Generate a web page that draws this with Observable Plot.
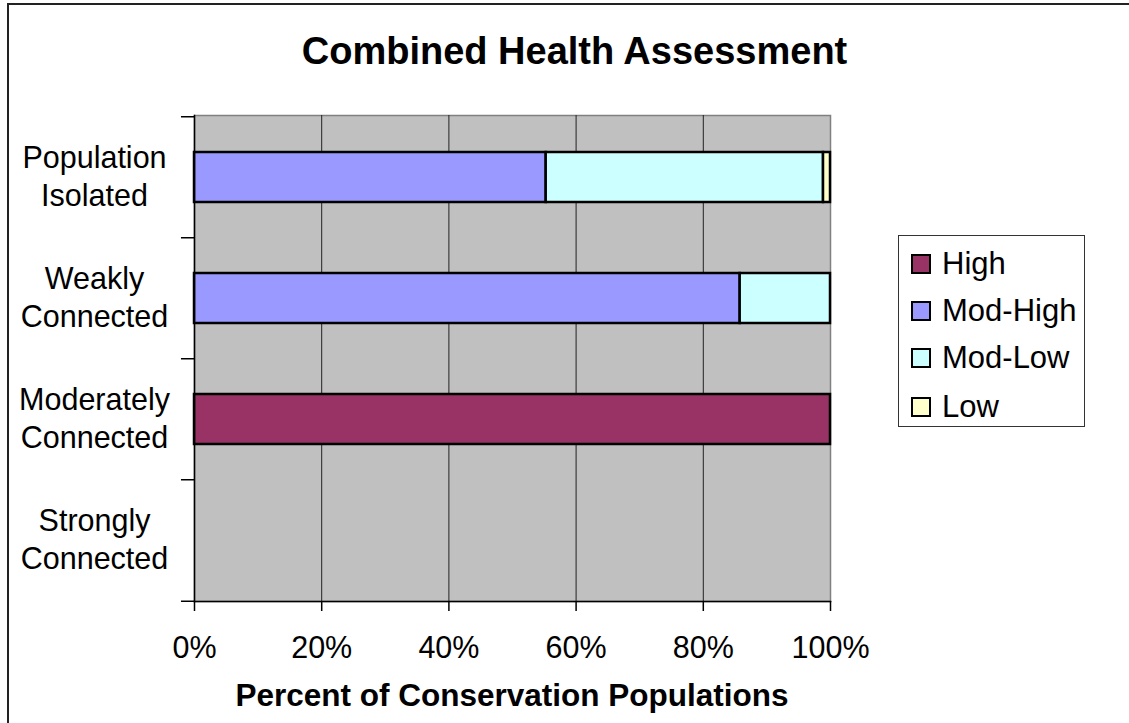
<!DOCTYPE html>
<html>
<head>
<meta charset="utf-8">
<script src="https://cdn.jsdelivr.net/npm/d3@7"></script>
<script src="https://cdn.jsdelivr.net/npm/@observablehq/plot@0.6"></script>
<style>
  html, body { margin: 0; padding: 0; background: #fff; }
  #wrap { position: relative; width: 1129px; height: 723px; overflow: hidden; font-family: "Liberation Sans", Arial, sans-serif; }
  #border { position: absolute; left: 7px; top: 3px; right: -10px; bottom: -10px; border-left: 2px solid #222; border-top: 2px solid #222; }
  #title { position: absolute; left: 0; width: 1149px; top: 29px; text-align: center; font-weight: bold; font-size: 38px; line-height: 44px; color: #000; }
  #xlabel { position: absolute; left: 194px; width: 636px; top: 677px; text-align: center; font-weight: bold; font-size: 31.5px; line-height: 36px; color: #000; white-space: nowrap; }
  #legend { position: absolute; left: 898px; top: 235px; width: 187px; height: 192px; border: 1.5px solid #333; box-sizing: border-box; background: #fff; }
  .item { position: absolute; left: 12px; height: 36px; display: flex; align-items: center; font-size: 31px; color: #000; white-space: nowrap; }
  .sw { width: 16px; height: 16px; border: 2px solid #000; margin-right: 11px; flex: none; }
  svg { position: absolute; left: 0; top: 0; }
</style>
</head>
<body>
<div id="wrap">
  <div id="border"></div>
  <div id="chart"></div>
  <div id="title"></div>
  <div id="xlabel"></div>
  <div id="legend"></div>
</div>
<script>
const titleText = "Combined Health Assessment";
const xLabelText = "Percent of Conservation Populations";
const categories = ["Population Isolated", "Weakly Connected", "Moderately Connected", "Strongly Connected"];
const categoryLabels = ["Population\nIsolated", "Weakly\nConnected", "Moderately\nConnected", "Strongly\nConnected"];
const levels = ["High", "Mod-High", "Mod-Low", "Low"];
const levelColors = ["#993366", "#9999ff", "#ccffff", "#ffffcc"];
const high    = [0, 0, 100, 0];
const modHigh = [55.3, 85.8, 0, 0];
const modLow  = [43.6, 14.2, 0, 0];
const low     = [1.1, 0, 0, 0];
const xTicks = [0, 20, 40, 60, 80, 100];

const seriesValues = [high, modHigh, modLow, low];
const rows = [];
categories.forEach((c, i) => {
  levels.forEach((l, j) => {
    const v = seriesValues[j][i];
    if (v > 0) rows.push({category: c, level: l, value: v});
  });
});

const chart = Plot.plot({
  width: 1129,
  height: 723,
  marginLeft: 194,
  marginRight: 299,
  marginTop: 115,
  marginBottom: 122,
  style: {fontFamily: "'Liberation Sans', Arial, sans-serif", fontSize: "30.5px", background: "transparent", color: "#000"},
  x: {domain: [0, 100]},
  y: {domain: categories, paddingInner: 0.59, paddingOuter: 0.295},
  color: {domain: levels, range: levelColors},
  marks: [
    Plot.frame({fill: "#c0c0c0", stroke: "#808080", strokeWidth: 1.5}),
    Plot.ruleX(xTicks.slice(1, -1), {stroke: "#222", strokeWidth: 1}),
    Plot.barX(rows, Plot.stackX({x: "value", y: "category", fill: "level", order: levels, stroke: "#000", strokeWidth: 2.5})),
    Plot.frame({anchor: "left", stroke: "#000", strokeWidth: 1.5}),
    Plot.frame({anchor: "bottom", stroke: "#000", strokeWidth: 1.5}),
    Plot.ruleY(categories, {y: d => d, x1: -2.05, x2: 0, dy: -60.75, stroke: "#000", strokeWidth: 1.5}),
    Plot.ruleY(categories.slice(-1), {y: d => d, x1: -2.05, x2: 0, dy: 60.75, stroke: "#000", strokeWidth: 1.5}),
    Plot.axisX({ticks: xTicks, tickFormat: d => d + "%", tickSize: 10, tickPadding: 25, label: null, stroke: "#000", strokeWidth: 1.5}),
    Plot.axisY({tickSize: 0, tickPadding: 100, textAnchor: "middle", lineHeight: 1.24, dy: -2.5, label: null,
      tickFormat: d => categoryLabels[categories.indexOf(d)]})
  ]
});
document.getElementById("chart").appendChild(chart);
document.getElementById("title").textContent = titleText;
document.getElementById("xlabel").textContent = xLabelText;

const legend = document.getElementById("legend");
const centers = [28, 75, 122, 171];
levels.forEach((l, i) => {
  const item = document.createElement("div");
  item.className = "item";
  item.style.top = (centers[i] - 18) + "px";
  const sw = document.createElement("div");
  sw.className = "sw";
  sw.style.background = levelColors[i];
  item.appendChild(sw);
  item.appendChild(document.createTextNode(l));
  legend.appendChild(item);
});
</script>
</body>
</html>
